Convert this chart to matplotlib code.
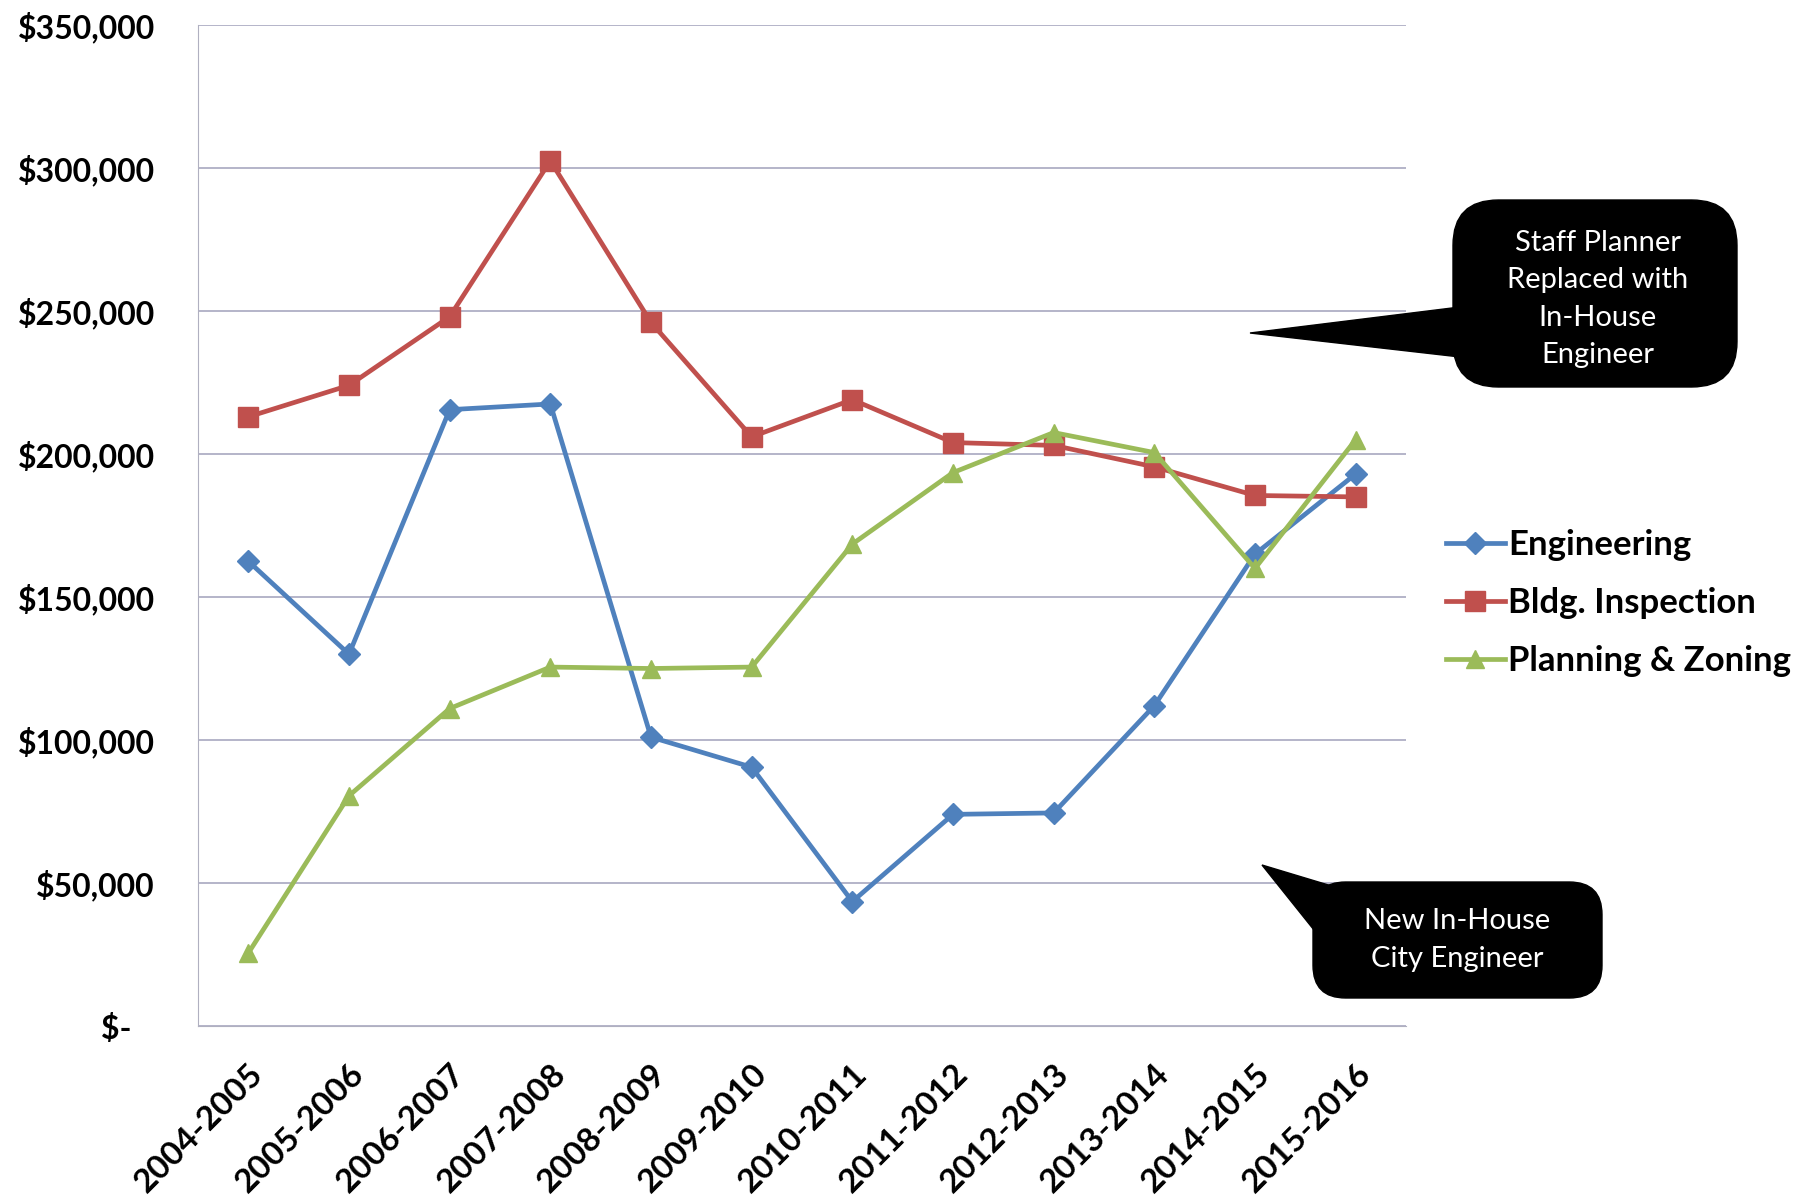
import matplotlib.pyplot as plt
from matplotlib.patches import FancyBboxPatch, Polygon
from matplotlib.ticker import FuncFormatter

plt.rcParams['font.family'] = ['Lato', 'DejaVu Sans']

# Datos
periodos = ["2004-2005", "2005-2006", "2006-2007", "2007-2008", "2008-2009", "2009-2010",
            "2010-2011", "2011-2012", "2012-2013", "2013-2014", "2014-2015", "2015-2016"]
engineering = [162500, 130000, 215500, 217500, 101000, 90500,
               43500, 74000, 74500, 112000, 165000, 193000]
bldg_inspection = [213000, 224000, 248000, 302500, 246000, 206000,
                   219000, 204000, 203000, 195500, 185500, 185000]
planning_zoning = [25500, 80500, 111000, 125500, 125000, 125500,
                   168500, 193500, 207500, 200500, 160000, 205000]
y_ticks = [0, 50000, 100000, 150000, 200000, 250000, 300000, 350000]

W, H = 1815, 1195
fig = plt.figure(figsize=(W / 100, H / 100), dpi=100)
ax = fig.add_axes([198 / W, 1 - 1026 / H, (1406 - 198) / W, (1026 - 25) / H])

x = list(range(len(periodos)))
ax.plot(x, engineering, color="#4F81BD", lw=3.4, marker="D", ms=11, label="Engineering")
ax.plot(x, bldg_inspection, color="#C0504D", lw=3.4, marker="s", ms=14, label="Bldg. Inspection")
ax.plot(x, planning_zoning, color="#9BBB59", lw=3.4, marker="^", ms=13, label="Planning & Zoning")

ax.set_xlim(-0.5, len(periodos) - 0.5)
ax.set_ylim(0, 350000)
ax.set_yticks(y_ticks)


def fmt(v, pos):
    if v == 0:
        return "$-   "
    return "${:,.0f}".format(v)


ax.yaxis.set_major_formatter(FuncFormatter(fmt))
ax.set_xticks(x)
ax.set_xticklabels(periodos, rotation=45, ha="right", rotation_mode="anchor",
                   fontsize=24, fontweight="bold")
for t in ax.get_yticklabels():
    t.set_fontsize(23)
    t.set_fontweight("bold")
ax.tick_params(axis="y", length=0, pad=31)
ax.tick_params(axis="x", length=0, pad=24)

ax.grid(axis="y", color="#A8A8C0", lw=1.2)
ax.set_axisbelow(True)
for s in ["top", "right"]:
    ax.spines[s].set_visible(False)
ax.spines["left"].set_color("#B0B0C0")
ax.spines["bottom"].set_color("#B0B0C0")

fig.legend(loc="upper left", bbox_to_anchor=(1432 / W, 1 - 515 / H), frameon=False,
           prop={"size": 25, "weight": "bold"}, handlelength=1.7, handletextpad=0.1,
           labelspacing=0.75, borderaxespad=0)


def fx(px):
    return px / W


def fy(py):
    return 1 - py / H


# Globo 1
box1 = FancyBboxPatch((fx(1453), fy(387)), fx(1737) - fx(1453), fy(200) - fy(387),
                      boxstyle="round,pad=0,rounding_size=0.025", transform=fig.transFigure,
                      facecolor="black", edgecolor="black", mutation_aspect=W / H)
fig.patches.append(box1)
tail1 = Polygon([(fx(1460), fy(307)), (fx(1250), fy(333)), (fx(1460), fy(357))],
                closed=True, transform=fig.transFigure, facecolor="black", edgecolor="black")
fig.patches.append(tail1)
fig.text(fx(1598), fy(299), "Staff Planner\nReplaced with\nIn-House\nEngineer", color="white",
         fontsize=21, ha="center", va="center", linespacing=1.55)

# Globo 2
box2 = FancyBboxPatch((fx(1313), fy(998)), fx(1602) - fx(1313), fy(882) - fy(998),
                      boxstyle="round,pad=0,rounding_size=0.018", transform=fig.transFigure,
                      facecolor="black", edgecolor="black", mutation_aspect=W / H)
fig.patches.append(box2)
tail2 = Polygon([(fx(1318), fy(935)), (fx(1262), fy(865)), (fx(1345), fy(890))],
                closed=True, transform=fig.transFigure, facecolor="black", edgecolor="black")
fig.patches.append(tail2)
fig.text(fx(1457), fy(940), "New In-House\nCity Engineer", color="white",
         fontsize=21, ha="center", va="center", linespacing=1.55)

fig.savefig("out.png", dpi=100)
